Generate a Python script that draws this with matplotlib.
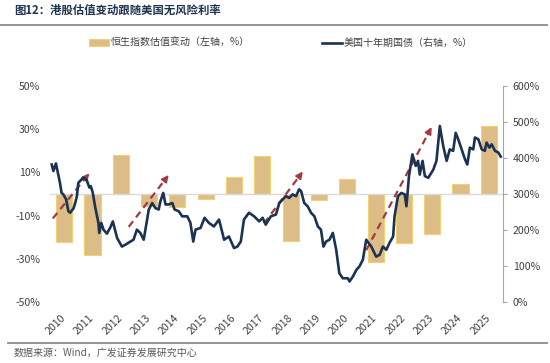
import matplotlib
matplotlib.use("Agg")
import matplotlib.pyplot as plt
from matplotlib.patches import Patch
from matplotlib.lines import Line2D
import numpy as np

plt.rcParams['font.family'] = ['Noto Sans CJK SC', 'DejaVu Sans']

# ---- data ----
years = list(range(2010, 2026))
year_labels = [str(y) for y in years]
hsi_change = [-22, -28.4, 18.1, -5.6, -6.2, -2.3, 7.8, 17.7,
              -21.9, -2.8, 6.8, -31.6, -22.5, -18.5, 4.5, 31.3]

ust_t = [2010.06, 2010.12, 2010.21, 2010.35, 2010.41, 2010.47, 2010.57, 2010.65, 2010.71, 2010.83,
         2010.89, 2010.95, 2011.00, 2011.06, 2011.18, 2011.30, 2011.39, 2011.44, 2011.51, 2011.60,
         2011.71, 2011.74, 2011.81, 2011.89, 2012.01, 2012.13, 2012.22, 2012.37, 2012.54, 2012.66,
         2012.84, 2012.95, 2013.07, 2013.19, 2013.31, 2013.49, 2013.61, 2013.72, 2013.84, 2013.90,
         2014.00, 2014.08, 2014.19, 2014.32, 2014.40, 2014.55, 2014.67, 2014.85, 2014.96, 2015.06,
         2015.14, 2015.32, 2015.46, 2015.61, 2015.79, 2015.97, 2016.15, 2016.32, 2016.50, 2016.62,
         2016.74, 2016.85, 2017.03, 2017.21, 2017.39, 2017.51, 2017.62, 2017.80, 2017.98, 2018.10,
         2018.22, 2018.33, 2018.45, 2018.57, 2018.69, 2018.80, 2018.87, 2018.98, 2019.10, 2019.22,
         2019.34, 2019.46, 2019.57, 2019.66, 2019.75, 2019.87, 2019.99, 2020.11, 2020.22, 2020.34,
         2020.52, 2020.58, 2020.70, 2020.82, 2020.93, 2021.05, 2021.17, 2021.35, 2021.52, 2021.64,
         2021.76, 2021.88, 2021.99, 2022.12, 2022.17, 2022.29, 2022.41, 2022.53, 2022.59, 2022.68,
         2022.80, 2022.92, 2023.00, 2023.06, 2023.16, 2023.24, 2023.36, 2023.54, 2023.65, 2023.77,
         2023.89, 2024.01, 2024.12, 2024.24, 2024.33, 2024.42, 2024.54, 2024.66, 2024.74, 2024.83,
         2024.95, 2025.01, 2025.13, 2025.25, 2025.36, 2025.42, 2025.52, 2025.60, 2025.72, 2025.84,
         2025.92]
ust_10y = [382, 364, 385, 332, 303, 299, 285, 252, 248, 260,
           275, 294, 331, 336, 346, 338, 318, 322, 304, 262,
           220, 192, 220, 201, 190, 207, 224, 178, 154, 159,
           168, 173, 201, 192, 173, 257, 275, 261, 257, 280,
           303, 271, 271, 275, 257, 252, 238, 238, 220, 168,
           201, 206, 234, 220, 210, 229, 173, 182, 150, 154,
           168, 229, 248, 238, 224, 234, 215, 238, 243, 275,
           285, 294, 289, 299, 294, 313, 308, 275, 266, 248,
           238, 210, 201, 154, 168, 173, 192, 145, 80, 66,
           66, 57, 71, 89, 99, 117, 173, 154, 126, 131,
           154, 145, 164, 182, 238, 294, 303, 299, 266, 350,
           410, 378, 392, 354, 392, 350, 345, 368, 392, 489,
           433, 392, 424, 420, 470, 452, 424, 396, 382, 429,
           424, 457, 452, 424, 420, 443, 429, 438, 420, 415,
           404]

# trend arrows (left-axis units): start x, start y, end x, end y
arrow_x0 = [2010.10, 2012.78, 2017.56, 2021.17]
arrow_y0 = [-11.3, -15.2, -13.6, -26.0]
arrow_x1 = [2011.39, 2014.19, 2018.93, 2023.48]
arrow_y1 = [9.6, 8.8, 10.4, 31.0]

left_ticks = [-50, -30, -10, 10, 30, 50]
right_ticks = [0, 100, 200, 300, 400, 500, 600]

# ---- style ----
bar_face = '#DDBD87'
bar_edge = '#F2D26E'
line_col = '#1B3253'
arrow_col = '#A23A40'
txt_col = '#404040'
title_col = '#1F3452'

fig = plt.figure(figsize=(5.5, 3.63), dpi=100)
ax = fig.add_axes([0.0909, 0.168, 0.8236, 0.595])
ax2 = ax.twinx()

xc = np.array(years) + 0.5
ax.bar(xc, hsi_change, width=0.57, color=bar_face, edgecolor=bar_edge, linewidth=0.8, zorder=2)
ax.axhline(0, color='#D9D9D9', lw=1.0, zorder=3)

for x0, y0, x1, y1 in zip(arrow_x0, arrow_y0, arrow_x1, arrow_y1):
    fx = x0 + (x1 - x0) * 0.94
    fy = y0 + (y1 - y0) * 0.94
    ax.plot([x0, fx], [y0, fy], color=arrow_col, lw=1.6, dashes=(3.2, 2.2), zorder=4)
    ax.annotate('', xy=(x1, y1), xytext=(fx, fy),
                arrowprops=dict(arrowstyle='-|>,head_length=0.4,head_width=0.2',
                                color=arrow_col, lw=1.3, shrinkA=0, shrinkB=0),
                zorder=4)

ax2.plot(ust_t, ust_10y, color=line_col, lw=1.9, zorder=5, solid_joinstyle='round')

ax.set_xlim(2010, 2026)
ax.set_ylim(-50, 50)
ax2.set_ylim(0, 600)

ax.set_yticks(left_ticks)
ax.set_yticklabels([f'{v}%' for v in left_ticks], fontsize=7.6, color=txt_col)
ax.tick_params(axis='y', length=0, pad=7)
ax2.set_yticks(right_ticks)
ax2.set_yticklabels([f'{v}%' for v in right_ticks], fontsize=7.6, color=txt_col)
ax2.tick_params(axis='y', length=3, width=0.8, color='#A6A6A6', pad=4)

ax.set_xticks(xc)
ax.set_xticklabels(year_labels, rotation=45, ha='right', va='center',
                   rotation_mode='anchor', fontsize=7.6, color=txt_col)
ax.tick_params(axis='x', length=0, pad=10)

for a in (ax, ax2):
    for s in ('top', 'left', 'bottom'):
        a.spines[s].set_visible(False)
ax.spines['right'].set_visible(False)
ax2.spines['right'].set_color('#A6A6A6')
ax2.spines['right'].set_linewidth(0.8)

# title, rules, source
fig.text(14 / 550, 1 - 10 / 363, '图12：港股估值变动跟随美国无风险利率', fontsize=8.2,
         fontweight='bold', color=title_col, ha='left', va='center')
fig.add_artist(Line2D([0, 547 / 550], [1 - 25 / 363, 1 - 25 / 363], color='#8C8C8C', lw=1.3))
fig.add_artist(Line2D([8 / 550, 547 / 550], [1 - 343 / 363, 1 - 343 / 363], color='#8C8C8C', lw=1.3))
fig.text(14 / 550, 1 - 352.5 / 363, '数据来源：Wind，广发证券发展研究中心', fontsize=7.2,
         color='#595959', ha='left', va='center')

handles = [Patch(facecolor=bar_face, edgecolor=bar_edge, linewidth=0.8),
           Line2D([], [], color=line_col, lw=1.9)]
labels = ['恒生指数估值变动（左轴，%）', '美国十年期国债（右轴，%）']
fig.legend(handles, labels, loc='center', bbox_to_anchor=(281 / 550, 1 - 43 / 363), ncol=2,
           frameon=False, fontsize=7.2, handlelength=2.0, handleheight=0.6, handletextpad=0.2,
           columnspacing=7.2, labelcolor=txt_col, borderpad=0, borderaxespad=0)

fig.savefig('out.png', dpi=100)
